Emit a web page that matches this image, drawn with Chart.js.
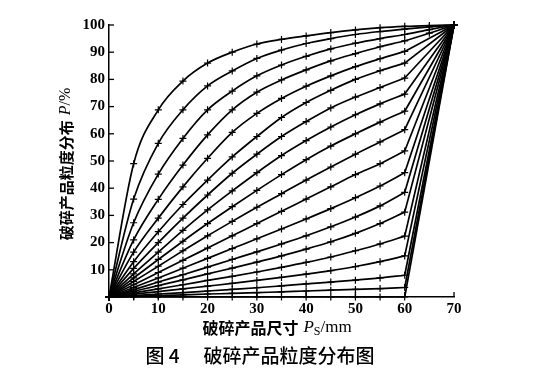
<!DOCTYPE html>
<html>
<head>
<meta charset="utf-8">
<script src="https://cdn.jsdelivr.net/npm/chart.js@4.4.1/dist/chart.umd.min.js"></script>
<style>
  html, body { margin: 0; padding: 0; background: #fff; }
  #wrap { width: 536px; height: 388px; }
</style>
</head>
<body>
<div id="wrap"><canvas id="sizeChart" width="536" height="388"></canvas></div>
<script>
// product size, mm
const sizes = [0, 5, 10, 15, 20, 25, 30, 35, 40, 45, 50, 55, 60, 65, 70]
const xTickLabels = [0, 10, 20, 30, 40, 50, 60, 70]
const yTickLabels = [10, 20, 30, 40, 50, 60, 70, 80, 90, 100]

// cumulative passing P/% for each curve (null = no point there)
const curve01 = [0, 49, 68.8, 79.4, 86, 90, 93, 94.7, 96, 97.2, 98.2, 99, 99.5, 99.8, 100]
const curve02 = [0, 36, 56.5, 68.8, 77.6, 83.1, 87.7, 90.8, 93.2, 95, 96.5, 97.6, 98.5, 99.3, 100]
const curve03 = [0, 27.3, 45.2, 58.3, 68.8, 75.7, 81.3, 85.3, 88.5, 91.2, 93.3, 95, 96.5, 98.3, 100]
const curve04 = [0, 21, 35.9, 48.5, 59.6, 68.8, 75.3, 79.8, 83.5, 86.8, 89.5, 92, 94.2, 97, 100]
const curve05 = [0, 16.5, 29, 40.5, 51, 60.5, 67.5, 73, 77.5, 81.3, 84.7, 87.6, 90.3, null, 100]
const curve06 = [0, 13, 24, 34, 43, 51.5, 59, 66, 71.5, 76, 80, 83.2, 86, null, 100]
const curve07 = [0, 10.5, 20, 29, 37.5, 45.5, 52.5, 59, 64.5, 69.5, 73.5, 77, 80.5, null, 100]
const curve08 = [0, 8.5, 16.5, 24.5, 32, 39, 45.7, 52, 57.5, 62.5, 67, 71, 74.6, null, 100]
const curve09 = [0, 7, 13.8, 20.5, 27, 33.2, 39.2, 45, 50.5, 55.5, 60, 64.3, 68.3, null, 100]
const curve10 = [0, 5.7, 11.3, 17, 22.5, 27.8, 33, 38, 43, 47.8, 52.5, 57, 61.5, null, 100]
const curve11 = [0, 4.5, 9, 13.5, 18, 22.5, 27, 31.5, 36, 40.5, 45, 49, 53.7, null, 100]
const curve12 = [0, 3.5, 7, 10.6, 14.2, 17.8, 21.4, 25, 28.7, 32.5, 36.5, 40.8, 45.7, null, 100]
const curve13 = [0, 2.7, 5.5, 8.2, 11, 13.8, 16.6, 19.5, 22.5, 25.8, 29.4, 33.5, 38.5, null, 100]
const curve14 = [0, 2.1, 4.2, 6.3, 8.5, 10.6, 12.8, 15.1, 17.6, 20.3, 23.4, 27, 31.2, null, 100]
const curve15 = [0, 1.5, 3, 4.5, 6.1, 7.6, 9.2, 10.9, 12.7, 14.7, 17, 19.5, 22.4, null, 100]
const curve16 = [0, 1, 2, 3, 4, 5, 6.1, 7.2, 8.4, 9.7, 11.2, 13, 15.1, null, 100]
const curve17 = [0, 0.5, 1.1, 1.6, 2.2, 2.8, 3.4, 4.1, 4.8, 5.5, 6.2, 7, 8, null, 100]
const curve18 = [0, 0.2, 0.5, 0.8, 1.1, 1.3, 1.6, 1.9, 2.2, 2.5, 2.8, 3.1, 3.5, null, 100]
const curve19 = [0, 0, 0, 0, 0, 0, 0, 0, 0, 0, 0, 0, 0, null, 100]

const allCurves = [curve01, curve02, curve03, curve04, curve05, curve06, curve07, curve08, curve09, curve10,
                   curve11, curve12, curve13, curve14, curve15, curve16, curve17, curve18, curve19]

const serif = '"Liberation Serif", "DejaVu Serif", serif'
const cjk = '"Noto Sans CJK SC", sans-serif'

// draw a row of text pieces centred on (cx, cy)
function drawParts(ctx, parts, cx, cy) {
    let total = 0
    parts.forEach((p) => {
        ctx.font = p.font
        p.w = ctx.measureText(p.text).width
        total += p.w + (p.gap || 0)
    })
    let x = cx - total / 2
    ctx.textAlign = 'left'
    ctx.textBaseline = 'middle'
    parts.forEach((p) => {
        ctx.font = p.font
        ctx.fillText(p.text, x, cy + (p.dy || 0))
        x += p.w + (p.gap || 0)
    })
}

const decorations = {
    id: 'decorations',
    afterDraw(chart) {
        const ctx = chart.ctx
        const xs = chart.scales.x
        const ys = chart.scales.y
        const area = chart.chartArea
        ctx.save()
        ctx.strokeStyle = '#000'
        ctx.lineWidth = 1.3
        // inward ticks
        xTickLabels.forEach((v) => {
            const px = xs.getPixelForValue(v)
            ctx.beginPath()
            ctx.moveTo(px, area.bottom)
            ctx.lineTo(px, area.bottom - 5)
            ctx.stroke()
        })
        yTickLabels.forEach((v) => {
            const py = ys.getPixelForValue(v)
            ctx.beginPath()
            ctx.moveTo(area.left, py)
            ctx.lineTo(area.left + 5, py)
            ctx.stroke()
        })

        ctx.fillStyle = '#000'
        // x title
        drawParts(ctx, [
            {text: '破碎产品尺寸', font: 'bold 16px ' + cjk, gap: 5},
            {text: 'P', font: 'italic 17px ' + serif},
            {text: 'S', font: '12px ' + serif, dy: 4},
            {text: '/mm', font: '17px ' + serif}
        ], 277, 328)

        // y title, rotated
        ctx.save()
        ctx.translate(66, 164)
        ctx.rotate(-Math.PI / 2)
        drawParts(ctx, [
            {text: '破碎产品粒度分布', font: 'bold 15px ' + cjk, gap: 5},
            {text: 'P', font: 'italic 16px ' + serif},
            {text: '/%', font: '16px ' + serif}
        ], 0, 0)
        ctx.restore()

        // caption
        drawParts(ctx, [
            {text: '图 4', font: '500 19px ' + cjk, gap: 24},
            {text: '破碎产品粒度分布图', font: '500 19px ' + cjk}
        ], 260, 356)
        ctx.restore()
    }
}

// smooth part up to the last marker, straight run from 60 mm up to (70, 100)
const datasets = []
allCurves.forEach((curve) => {
    const pts = sizes.map((x, i) => ({x: x, y: curve[i]})).filter((p) => p.y !== null)
    const base = {
        borderColor: '#000',
        borderWidth: 1.7,
        pointStyle: 'cross',
        pointBorderWidth: 1.2,
        pointBorderColor: '#000',
        fill: false,
        clip: false
    }
    if (curve[13] !== null) {
        datasets.push({...base, data: pts, pointRadius: 3.5, cubicInterpolationMode: 'monotone'})
        return
    }
    const last = pts.length - 1
    datasets.push({...base, data: pts.slice(0, last), pointRadius: 3.5, cubicInterpolationMode: 'monotone'})
    datasets.push({...base, data: pts.slice(last - 1), pointRadius: [0, 3.5], tension: 0})
})

new Chart(document.getElementById('sizeChart'), {
    type: 'line',
    data: {datasets: datasets},
    options: {
        responsive: false,
        animation: false,
        layout: {padding: {left: 49, top: 25, right: 82, bottom: 0}},
        plugins: {
            legend: {display: false},
            tooltip: {enabled: false}
        },
        scales: {
            x: {
                type: 'linear',
                min: 0,
                max: 70,
                afterBuildTicks: (s) => { s.ticks = xTickLabels.map((v) => ({value: v})) },
                afterFit: (s) => { s.height = 91 },
                grid: {drawOnChartArea: false, drawTicks: false},
                border: {display: true, color: '#000', width: 1.5},
                ticks: {
                    color: '#000',
                    padding: 3,
                    maxRotation: 0,
                    font: {family: serif, weight: 'bold', size: 15}
                }
            },
            y: {
                type: 'linear',
                min: 0,
                max: 100,
                afterBuildTicks: (s) => { s.ticks = yTickLabels.map((v) => ({value: v})) },
                afterFit: (s) => { s.width = 60 },
                grid: {drawOnChartArea: false, drawTicks: false},
                border: {display: true, color: '#000', width: 1.5},
                ticks: {
                    color: '#000',
                    padding: 4,
                    font: {family: serif, weight: 'bold', size: 15}
                }
            }
        }
    },
    plugins: [decorations]
})
</script>
</body>
</html>
